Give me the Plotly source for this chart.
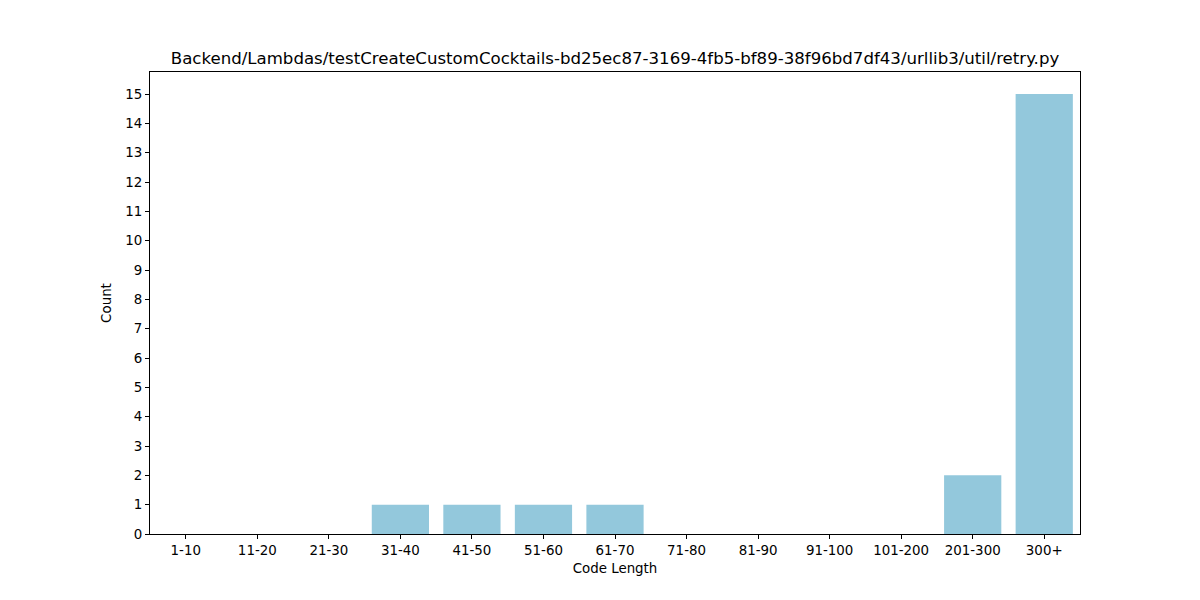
import plotly.graph_objects as go

categories = ["1-10", "11-20", "21-30", "31-40", "41-50", "51-60", "61-70",
              "71-80", "81-90", "91-100", "101-200", "201-300", "300+"]
counts = [0, 0, 0, 1, 1, 1, 1, 0, 0, 0, 0, 2, 15]
y_ticks = list(range(0, 16))

title = "Backend/Lambdas/testCreateCustomCocktails-bd25ec87-3169-4fb5-bf89-38f96bd7df43/urllib3/util/retry.py"

fig = go.Figure(go.Bar(x=list(range(len(categories))), y=counts, width=0.8,
                       marker=dict(color="#93C8DC", line=dict(width=0))))

font = dict(family="DejaVu Sans", size=13.4, color="black")
fig.update_layout(
    width=1200, height=600,
    margin=dict(l=150, r=120, t=72, b=66),
    paper_bgcolor="white", plot_bgcolor="white",
    font=font,
    showlegend=False,
    title=dict(text=title, x=(150 + 1080) / 2 / 1200, xanchor="center",
               y=1 - 58 / 600, yanchor="middle",
               font=dict(family="DejaVu Sans", size=16.6, color="black")),
    xaxis=dict(range=[-0.5, len(categories) - 0.5], tickmode="array",
               tickvals=list(range(len(categories))), ticktext=categories,
               ticks="outside", ticklen=4, tickcolor="black", tickwidth=1,
               showline=True, linecolor="black", linewidth=1, mirror=True,
               showgrid=False, zeroline=False,
               title=dict(text="Code Length", font=font, standoff=6)),
    yaxis=dict(range=[0, 15.75], tickmode="array", tickvals=y_ticks,
               ticktext=[str(v) for v in y_ticks],
               ticks="outside", ticklen=4, tickcolor="black", tickwidth=1,
               showline=True, linecolor="black", linewidth=1, mirror=True,
               showgrid=False, zeroline=False,
               title=dict(text="Count", font=font, standoff=10)),
)

fig.write_html("out.html")
